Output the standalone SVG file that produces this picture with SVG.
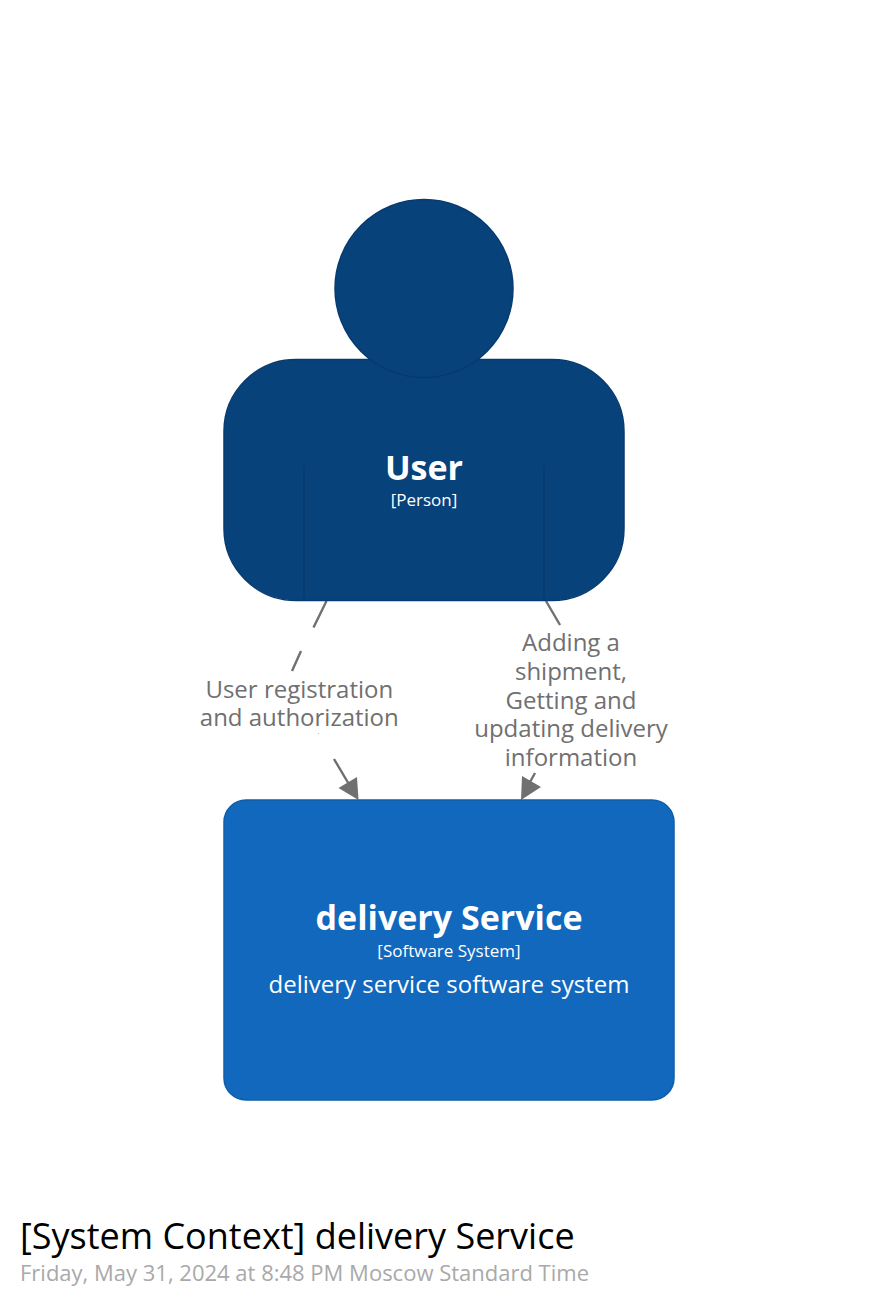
<svg xmlns="http://www.w3.org/2000/svg" width="874" height="1300" viewBox="0 0 874 1300">
<style>
text{font-family:"Open Sans","Noto Sans",sans-serif}
.w{fill:#fff;text-anchor:middle}
.l{fill:#707070;font-size:24px;text-anchor:middle}
.c{stroke:#707070;stroke-width:2.4;fill:none}
.p{fill:#08427b;stroke:#073b6f;stroke-width:1.5}
</style>
<rect width="874" height="1300" fill="#fff"/>
<g id="connectors">
<path class="c" d="M326.500 601L313.500 627.500M301 651L292 671M334 759L350 786"/>
<path d="M318 733L319 734" stroke="#707070" stroke-width="1" opacity="0.5" fill="none"/>
<path class="c" d="M546 601L560 625M535 773L530 782"/>
<polygon points="358.500,800 338.500,788 357,777" fill="#707070"/>
<polygon points="521,800 522,776 541,787" fill="#707070"/>
<text class="l"><tspan x="299.300" y="698">User registration</tspan><tspan x="299.300" y="726">and authorization</tspan></text>
<text class="l"><tspan x="571" y="651">Adding a</tspan><tspan x="571" y="680">shipment,</tspan><tspan x="571" y="709">Getting and</tspan><tspan x="571" y="737">updating delivery</tspan><tspan x="571" y="766">information</tspan></text>
</g>
<g id="user">
<rect class="p" x="224" y="359.500" width="400" height="241" rx="72"/>
<circle class="p" cx="424" cy="288.500" r="89"/>
<path d="M304 466V600M544 466V600" stroke="#073b6f" stroke-width="1.500" fill="none"/>
<text class="w" x="424" y="479.500" font-size="34" font-weight="700">User</text>
<text class="w" x="424" y="505.500" font-size="17">[Person]</text>
</g>
<g id="delivery-service">
<rect x="224" y="800" width="450" height="300" rx="22" fill="#1168bd" stroke="#0f5daa" stroke-width="1.5"/>
<text class="w" x="449" y="929.500" font-size="34" font-weight="700">delivery Service</text>
<text class="w" x="449" y="957" font-size="17">[Software System]</text>
<text class="w" x="449" y="993" font-size="24">delivery service software system</text>
</g>
<g id="title">
<text x="20" y="1249" font-size="36" fill="#000">[System Context] delivery Service</text>
<text x="20" y="1281" font-size="22" fill="#a9a9a9">Friday, May 31, 2024 at 8:48 PM Moscow Standard Time</text>
</g>
</svg>
